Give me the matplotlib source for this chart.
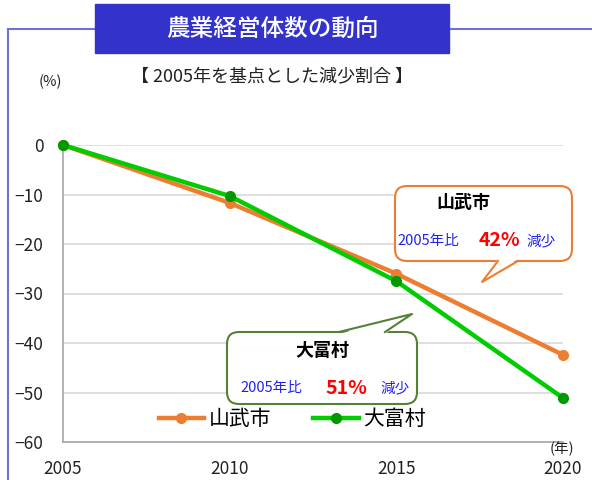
import matplotlib
matplotlib.use("Agg")
import matplotlib.pyplot as plt
from matplotlib.patches import FancyBboxPatch, Rectangle, Polygon

plt.rcParams['font.family'] = ['Noto Sans CJK JP', 'DejaVu Sans']

years = [2005, 2010, 2015, 2020]
sanmu = [0, -11.7, -26.0, -42.4]
otomi = [0, -10.3, -27.5, -51.1]
yticks = [0, -10, -20, -30, -40, -50, -60]

W, H = 592, 480
fig = plt.figure(figsize=(W / 100, H / 100), dpi=100)

# main plot area (pixel positions converted to figure fractions)
ax = fig.add_axes([63 / W, 1 - 442 / H, 500 / W, 297 / H])
ax.set_xlim(2005, 2020)
ax.set_ylim(-60, 0)
ax.set_xticks(years)
ax.set_yticks(yticks)
ax.grid(axis='y', color='#d9d9d9', lw=1.2)
ax.set_axisbelow(True)
for s in ['top', 'right']:
    ax.spines[s].set_visible(False)
for s in ['left', 'bottom']:
    ax.spines[s].set_color('#a6a6a6')
    ax.spines[s].set_linewidth(1.2)
ax.tick_params(length=0, labelsize=12.5, colors='#222222')
ax.tick_params(axis='x', pad=13)
ax.tick_params(axis='y', pad=14)

ax.plot(years, sanmu, color='#ed7d31', lw=3.2, marker='o', ms=7,
        mfc='#ed7d31', mec='#ed7d31', clip_on=False, zorder=3, label='山武市')
ax.plot(years, otomi, color='#00cc00', lw=3.2, marker='o', ms=7,
        mfc='#009900', mec='#009900', clip_on=False, zorder=4, label='大富村')

ax.legend(loc='center', bbox_to_anchor=(292 / W, 1 - 419 / H),
          bbox_transform=fig.transFigure, ncol=2, frameon=False,
          fontsize=15, handlelength=2.2, handletextpad=0.2,
          columnspacing=2.0)

# overlay in pixel coordinates for decorations
ov = fig.add_axes([0, 0, 1, 1], zorder=10)
ov.set_xlim(0, W)
ov.set_ylim(H, 0)
ov.axis('off')
ov.patch.set_alpha(0)

frame_c = '#7070d8'
ov.plot([8, 8], [29, H], color=frame_c, lw=1.5)
ov.plot([8, W], [29, 29], color=frame_c, lw=1.5)

ov.add_patch(Rectangle((95, 4), 354, 49, color='#3333cc', zorder=2))
ov.text(272, 29, '農業経営体数の動向', color='white', fontsize=17,
        fontweight='medium', ha='center', va='center', zorder=3)

ov.text(272, 77, '【 2005年を基点とした減少割合 】', fontsize=13,
        ha='center', va='center', color='#222222')
ov.text(50, 82, '(%)', fontsize=10.5, ha='center', va='center', color='#222222')
ov.text(562, 449, '(年)', fontsize=10.5, ha='center', va='center', color='#222222')


def callout(x0, y0, x1, y1, tail, ec):
    box = FancyBboxPatch((x0, y0), x1 - x0, y1 - y0,
                         boxstyle='round,pad=0,rounding_size=12',
                         fc='white', ec=ec, lw=1.5, zorder=2)
    ov.add_patch(box)
    (ax1, ay1), (tx, ty), (ax2, ay2) = tail
    inward = 2 if ay1 > (y0 + y1) / 2 else -2
    ov.add_patch(Polygon([(ax1, ay1 - inward), (tx, ty), (ax2, ay2 - inward)],
                         closed=True, fc='white', ec='none', zorder=3))
    ov.plot([ax1, tx, ax2], [ay1, ty, ay2], color=ec, lw=1.5, zorder=4)


callout(395, 186, 572, 261, [(498, 261), (482, 282), (518, 261)], '#ed7d31')
ov.text(463, 203, '山武市', fontsize=13, fontweight='bold',
        ha='center', va='center', zorder=5)
ov.text(428, 241, '2005年比', fontsize=10.5, color='#2222ee',
        ha='center', va='center', zorder=5)
ov.text(499, 241, '42%', fontsize=14, color='#ff0000', fontweight='bold',
        ha='center', va='center', zorder=5)
ov.text(541, 241, '減少', fontsize=10.5, color='#2222ee',
        ha='center', va='center', zorder=5)

callout(227, 332, 417, 404, [(339, 332), (412, 314), (385, 332)], '#548235')
ov.text(322, 350, '大富村', fontsize=13, fontweight='bold',
        ha='center', va='center', zorder=5)
ov.text(271, 388, '2005年比', fontsize=10.5, color='#2222ee',
        ha='center', va='center', zorder=5)
ov.text(346, 388, '51%', fontsize=14, color='#ff0000', fontweight='bold',
        ha='center', va='center', zorder=5)
ov.text(395, 388, '減少', fontsize=10.5, color='#2222ee',
        ha='center', va='center', zorder=5)

fig.savefig('out.png', dpi=100)
